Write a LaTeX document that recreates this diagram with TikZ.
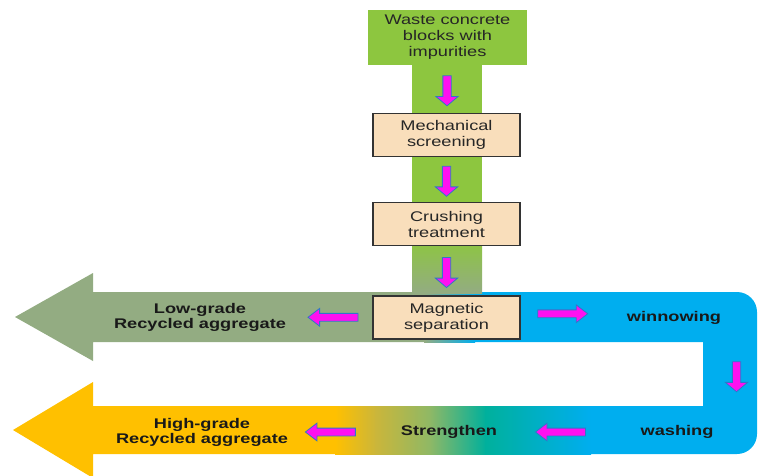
\documentclass[tikz,border=0pt]{standalone}
\usepackage{fontspec}
\setmainfont{Liberation Sans}[FakeStretch=1.3]
\usetikzlibrary{shapes.arrows}
\definecolor{leafgreen}{HTML}{8DC63F}
\definecolor{sagegreen}{HTML}{93AC82}
\definecolor{skyblue}{HTML}{00AEEF}
\definecolor{amber}{HTML}{FFC000}
\definecolor{mustard}{HTML}{CBB63A}
\definecolor{olivegreen}{HTML}{8EB866}
\definecolor{seateal}{HTML}{00B09C}
\definecolor{peach}{HTML}{F9DEBB}
\definecolor{pinkfill}{HTML}{FF10F0}
\definecolor{arrowedge}{HTML}{2F78C8}
\tikzset{
  sourcebox/.style={fill=leafgreen,minimum width=159pt,minimum height=55pt,align=center,text=black!85,inner sep=0pt},
  procbox/.style={draw=black!80,line width=1.2pt,fill=peach,minimum width=147pt,minimum height=43pt,align=center,text=black!85,inner sep=0pt},
  bandlabel/.style={font=\fontsize{14pt}{15pt}\selectfont\bfseries,align=center,text=black!90},
  pinkarrow/.style={single arrow,draw=arrowedge,fill=pinkfill,line width=0.8pt},
  pinkdown/.style={pinkarrow,shape border rotate=270,minimum height=30pt,inner sep=3.75pt,single arrow head extend=7pt,single arrow tip angle=100},
  pinkleft/.style={pinkarrow,shape border rotate=180,minimum height=50pt,inner sep=3.5pt,single arrow head extend=5pt,single arrow tip angle=75},
  pinkright/.style={pinkleft,shape border rotate=0}
}
\begin{document}
\begin{tikzpicture}[x=1pt,y=1pt,font=\fontsize{14pt}{16pt}\selectfont]
\useasboundingbox (0,0) rectangle (758,-475);
\fill[skyblue] (440,-292) -- (737,-292) arc[start angle=90,end angle=0,radius=20] -- (757,-434) arc[start angle=0,end angle=-90,radius=20] -- (440,-454) -- (440,-406) -- (703,-406) -- (703,-342) -- (440,-342) -- cycle;
\fill[sagegreen] (15,-317) -- (93,-273) -- (93,-292) -- (425,-292) -- (425,-342) -- (93,-342) -- (93,-361) -- cycle;
\shade[left color=sagegreen,right color=skyblue] (424,-292) rectangle (475,-342);
\fill[amber] (13,-430) -- (93,-382) -- (93,-406) -- (336,-406) -- (336,-454) -- (93,-454) -- (93,-478) -- cycle;
\shade[left color=amber,right color=mustard] (335,-406) rectangle (376,-454);
\shade[left color=mustard,right color=olivegreen] (375,-406) rectangle (431,-454);
\shade[left color=olivegreen,right color=seateal] (430,-406) rectangle (486,-454);
\shade[left color=seateal,right color=skyblue] (485,-406) rectangle (591,-454);
\fill[leafgreen] (412,-60) rectangle (482,-241);
\shade[top color=leafgreen,bottom color=sagegreen] (412,-240) rectangle (482,-293);

\node[sourcebox] (waste) at (447.5,-37.5) {Waste concrete\\blocks with\\impurities};
\node[procbox] (mech) at (446.5,-135) {Mechanical\\screening};
\node[procbox] (crush) at (446.5,-224) {Crushing\\treatment};
\node[procbox] (magnet) at (446.5,-317.5) {Magnetic\\separation};
\node[bandlabel] (low) at (200,-317) {Low-grade\\Recycled aggregate};
\node[bandlabel] (high) at (202,-432) {High-grade\\Recycled aggregate};
\node[bandlabel] (winnow) at (674,-318) {winnowing};
\node[bandlabel] (wash) at (677,-432) {washing};
\node[bandlabel] (streng) at (449,-432) {Strengthen};

\path (waste.south) -- node[pinkdown]{} (mech.north);
\path (mech.south) -- node[pinkdown]{} (crush.north);
\path (crush.south) -- node[pinkdown]{} (magnet.north);
\path (magnet.center) -- node[pinkright,pos=0.5,yshift=4pt]{} (winnow.center);
\path (winnow.center) -- node[pinkdown,xshift=61pt]{} (wash.center);
\path (wash.center) -- node[pinkleft,pos=0.5]{} (streng.center);
\path (magnet.center) -- node[pinkleft,pos=0.45]{} (low.center);
\path (streng.center) -- node[pinkleft,pos=0.47]{} (high.center);
\end{tikzpicture}
\end{document}
